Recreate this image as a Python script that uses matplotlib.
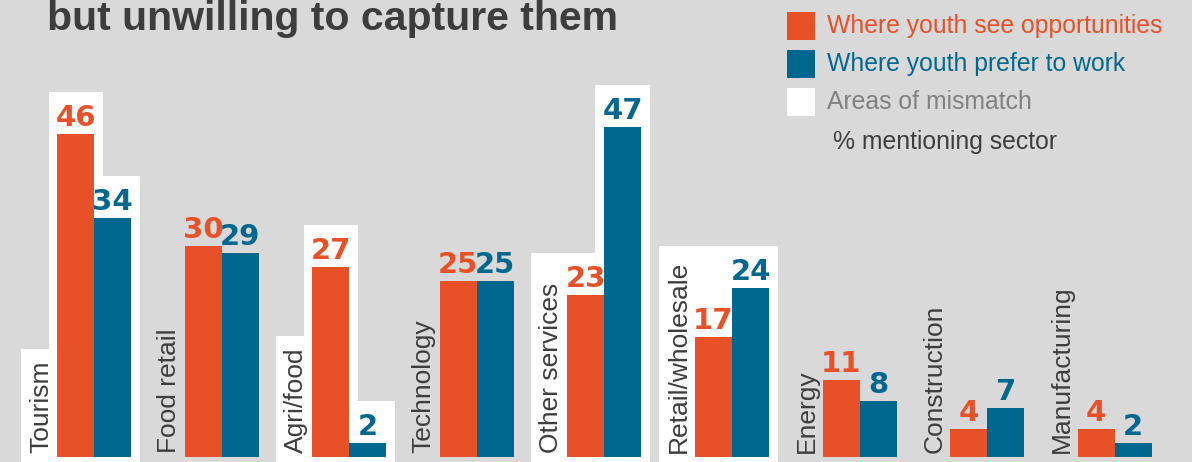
import numpy as np
import matplotlib.pyplot as plt
from matplotlib.patches import Rectangle

sectors = ['Tourism', 'Food retail', 'Agri/food', 'Technology', 'Other services',
           'Retail/wholesale', 'Energy', 'Construction', 'Manufacturing']
see_opps = [46, 30, 27, 25, 23, 17, 11, 4, 4]
prefer_work = [34, 29, 2, 25, 47, 24, 8, 7, 2]
mismatch = [True, False, True, False, True, True, False, False, False]

legend_labels = ['Where youth see opportunities', 'Where youth prefer to work', 'Areas of mismatch']

ORANGE = '#e85027'
BLUE = '#00688f'
BG = '#d9d9d9'
DARK = '#3d3d3d'
GREY = '#808080'

W, H = 1192, 462
fig = plt.figure(figsize=(W / 100, H / 100), dpi=100, facecolor=BG)
ax = fig.add_axes([0, 0, 1, 1])
ax.set_facecolor(BG)
ax.axis('off')

# pixel scale of the layout
px_x = 127.6   # pixels per group
px_y = 7.03    # pixels per percentage point
ax.set_xlim(-94 / px_x, (W - 94) / px_x)
ax.set_ylim(-5 / px_y, 457 / px_y)

x = np.arange(len(sectors))
w = 37 / px_x

ax.bar(x - w / 2, see_opps, w, color=ORANGE, zorder=3, linewidth=0)
ax.bar(x + w / 2, prefer_work, w, color=BLUE, zorder=3, linewidth=0)

numfont = dict(fontsize=21, fontweight='bold', family='DejaVu Sans', ha='center', va='baseline', zorder=4)
for i in range(len(sectors)):
    ax.annotate(str(see_opps[i]), (x[i] - w / 2, see_opps[i]), xytext=(0, 5.8),
                textcoords='offset points', color=ORANGE, **numfont)
    ax.annotate(str(prefer_work[i]), (x[i] + w / 2, prefer_work[i]), xytext=(0, 5.8),
                textcoords='offset points', color=BLUE, **numfont)

labels = []
for i, name in enumerate(sectors):
    t = ax.text(x[i] - w - 4 / px_x, 4 / px_y, name, rotation=90, ha='right', va='bottom',
                fontsize=19, color=DARK, family='Liberation Sans', zorder=4)
    labels.append(t)

# white "mismatch" boxes, a step shape hugging the label and both bars
fig.canvas.draw()
renderer = fig.canvas.get_renderer()
inv = ax.transData.inverted()
for i in range(len(sectors)):
    if not mismatch[i]:
        continue
    bb = labels[i].get_window_extent(renderer)
    (lx0, ly0), (lx1, ly1) = inv.transform([[bb.x0, bb.y0], [bb.x1, bb.y1]])
    tops = [ly1 + 12 / px_y,
            see_opps[i] + 42 / px_y,
            prefer_work[i] + 42 / px_y]
    for _ in range(2):
        for j in range(2):
            if abs(tops[j] - tops[j + 1]) < 56 / px_y:
                tops[j] = tops[j + 1] = max(tops[j], tops[j + 1])
    mid = x[i] + (9 if tops[1] > tops[2] else -9) / px_x
    if tops[1] == tops[2]:
        mid = x[i]
    edges = [lx0 - 8 / px_x, x[i] - w - 8 / px_x, mid, x[i] + w + 9 / px_x]
    bottom = -2
    xs, ys = [edges[0]], [bottom]
    for j in range(3):
        xs += [edges[j], edges[j + 1]]
        ys += [tops[j], tops[j]]
    xs.append(edges[3])
    ys.append(bottom)
    ax.fill(xs, ys, color='white', zorder=1, linewidth=0)

# title (cut off at the top in the source)
fig.text(47 / W, 1 - 30 / H, 'but unwilling to capture them', fontsize=29.5, fontweight='bold',
         color=DARK, va='baseline', family='Liberation Sans')

# legend
for k, (lab, col, tcol) in enumerate(zip(legend_labels, [ORANGE, BLUE, 'white'], [ORANGE, BLUE, GREY])):
    yc = 26 + 38 * k
    fig.add_artist(Rectangle((787 / W, 1 - (yc + 14) / H), 28 / W, 28 / H,
                             transform=fig.transFigure, color=col, linewidth=0))
    fig.text(827 / W, 1 - yc / H, lab, fontsize=17.8, color=tcol, va='center',
             family='Liberation Sans')
fig.text(833 / W, 1 - 142 / H, '% mentioning sector', fontsize=17.8, color=DARK, va='center',
         family='Liberation Sans')

fig.savefig('out.png', dpi=100, facecolor=BG)
